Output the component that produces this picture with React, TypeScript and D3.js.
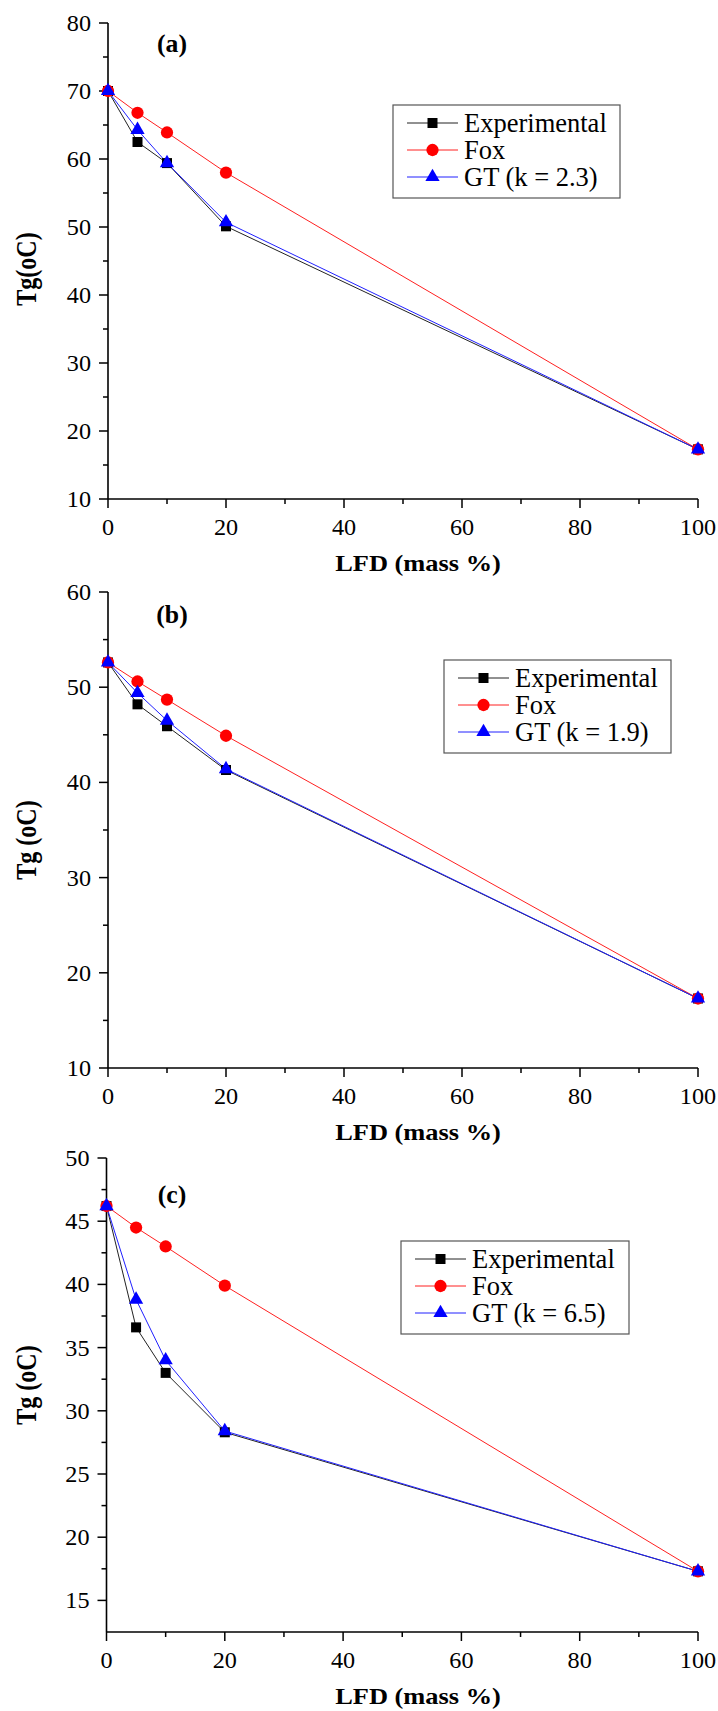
import React from "react";
import * as d3 from "d3";

const massPct = [0, 5, 10, 20, 100];

const expA = [70, 62.5, 59.4, 50.1, 17.3];
const foxA = [70, 66.8, 63.9, 58.0, 17.3];
const gtA = [70, 64.3, 59.4, 50.7, 17.3];

const expB = [52.6, 48.2, 45.9, 41.3, 17.3];
const foxB = [52.6, 50.6, 48.7, 44.9, 17.3];
const gtB = [52.6, 49.4, 46.5, 41.4, 17.3];

const expC = [46.2, 36.6, 33.0, 28.3, 17.3];
const foxC = [46.2, 44.5, 43.0, 39.9, 17.3];
const gtC = [46.2, 38.8, 34.0, 28.4, 17.3];

const xTicks = [0, 20, 40, 60, 80, 100];
const xMinor = [10, 30, 50, 70, 90];

const seriesNames = ["Experimental", "Fox"];
const kA = "GT (k = 2.3)";
const kB = "GT (k = 1.9)";
const kC = "GT (k = 6.5)";

const FONT = "Liberation Serif";

// text helper: the reference is stretched a little horizontally
function Txt(props) {
  const { x, y, sx = 1.03, size, bold, anchor = "start", rot, children } = props;
  return (
    <text
      transform={`translate(${x},${y}) scale(${sx},1)${rot ? " rotate(-90)" : ""}`}
      style={{ fontFamily: FONT, fontSize: size + "px", fontWeight: bold ? 700 : 400 }}
      textAnchor={anchor}
      fill="#000"
    >
      {children}
    </text>
  );
}

const sym = (type, size) => d3.symbol().type(type).size(size)();

const markers = {
  black: sym(d3.symbolSquare, 100),
  red: sym(d3.symbolCircle, 118),
  blue: sym(d3.symbolTriangle, 88),
};

function Panel(props) {
  const { top, bottom, left, yDomain, yTicks, yMinor, exp, fox, gt, label, yTitle, yTitleY, gtName, legend } = props;
  const right = 698;
  const x = d3.scaleLinear().domain([0, 100]).range([left, right]);
  const y = d3.scaleLinear().domain(yDomain).range([bottom, top]);
  const line = d3
    .line<number>()
    .x((_, i) => x(massPct[i]))
    .y((d) => y(d));

  const series = [
    { vals: exp, color: "#000", lineColor: "#222", mk: markers.black, name: seriesNames[0] },
    { vals: fox, color: "#ff0000", lineColor: "#ff2020", mk: markers.red, name: seriesNames[1] },
    { vals: gt, color: "#0000ff", lineColor: "#2020ff", mk: markers.blue, name: gtName },
  ];

  return (
    <g>
      {/* axes */}
      <line x1={left} x2={left} y1={top} y2={bottom} stroke="#000" strokeWidth={1.6} />
      <line x1={left} x2={right} y1={bottom} y2={bottom} stroke="#000" strokeWidth={1.6} />
      {yTicks.map((t) => (
        <g key={"y" + t}>
          <line x1={left - 9} x2={left} y1={y(t)} y2={y(t)} stroke="#000" strokeWidth={1.5} />
          <Txt x={left - 17} y={y(t) + 8} size={23.5} anchor="end">
            {t}
          </Txt>
        </g>
      ))}
      {yMinor.map((t) => (
        <line key={"ym" + t} x1={left - 5} x2={left} y1={y(t)} y2={y(t)} stroke="#000" strokeWidth={1.5} />
      ))}
      {xTicks.map((t) => (
        <g key={"x" + t}>
          <line x1={x(t)} x2={x(t)} y1={bottom} y2={bottom + 9} stroke="#000" strokeWidth={1.5} />
          <Txt x={x(t)} y={bottom + 36} size={23.5} anchor="middle">
            {t}
          </Txt>
        </g>
      ))}
      {xMinor.map((t) => (
        <line key={"xm" + t} x1={x(t)} x2={x(t)} y1={bottom} y2={bottom + 5} stroke="#000" strokeWidth={1.5} />
      ))}

      <Txt x={418} y={bottom + 72} size={24} sx={1.1} bold anchor="middle">
        LFD (mass %)
      </Txt>
      <Txt x={36} y={yTitleY} size={24} sx={1.22} bold anchor="middle" rot>
        {yTitle}
      </Txt>
      <Txt x={172} y={label.y} size={25} bold anchor="middle">
        {label.text}
      </Txt>

      {/* data */}
      {series.map((s) => (
        <path key={"l" + s.name} d={line(s.vals)} fill="none" stroke={s.lineColor} strokeWidth={1} />
      ))}
      {series.map((s) =>
        s.vals.map((v, i) => (
          <path key={s.name + i} d={s.mk} transform={`translate(${x(massPct[i])},${y(v)})`} fill={s.color} />
        ))
      )}

      {/* legend */}
      <rect
        x={legend.x}
        y={legend.y}
        width={legend.w}
        height={93}
        fill="#fff"
        stroke="#555"
        strokeWidth={1.2}
      />
      {series.map((s, i) => {
        const cy = legend.y + 18 + i * 27;
        const lx = legend.x + 14;
        return (
          <g key={"lg" + s.name}>
            <line x1={lx} x2={lx + 51} y1={cy} y2={cy} stroke={s.lineColor} strokeWidth={1} />
            <path d={s.mk} transform={`translate(${lx + 25.5},${cy})`} fill={s.color} />
            <Txt x={lx + 57} y={cy + 9} size={26.5} sx={1}>
              {s.name}
            </Txt>
          </g>
        );
      })}
    </g>
  );
}

export default function App() {
  return (
    <svg
      width={718}
      height={1711}
      style={{ position: "absolute", left: 0, top: 0, background: "#fff" }}
    >
      <Panel
        top={23}
        bottom={499}
        left={108}
        yDomain={[10, 80]}
        yTicks={d3.range(10, 81, 10)}
        yMinor={d3.range(15, 80, 10)}
        exp={expA}
        fox={foxA}
        gt={gtA}
        gtName={kA}
        label={{ text: "(a)", y: 52 }}
        yTitle="Tg(oC)"
        yTitleY={269}
        legend={{ x: 393, y: 105, w: 227 }}
      />
      <Panel
        top={592}
        bottom={1068}
        left={108}
        yDomain={[10, 60]}
        yTicks={d3.range(10, 61, 10)}
        yMinor={d3.range(15, 60, 10)}
        exp={expB}
        fox={foxB}
        gt={gtB}
        gtName={kB}
        label={{ text: "(b)", y: 623 }}
        yTitle="Tg (oC)"
        yTitleY={840}
        legend={{ x: 444, y: 660, w: 227 }}
      />
      <Panel
        top={1158}
        bottom={1632}
        left={106.5}
        yDomain={[12.5, 50]}
        yTicks={d3.range(15, 51, 5)}
        yMinor={d3.range(17.5, 50, 5)}
        exp={expC}
        fox={foxC}
        gt={gtC}
        gtName={kC}
        label={{ text: "(c)", y: 1203 }}
        yTitle="Tg (oC)"
        yTitleY={1385}
        legend={{ x: 401, y: 1241, w: 228 }}
      />
    </svg>
  );
}
